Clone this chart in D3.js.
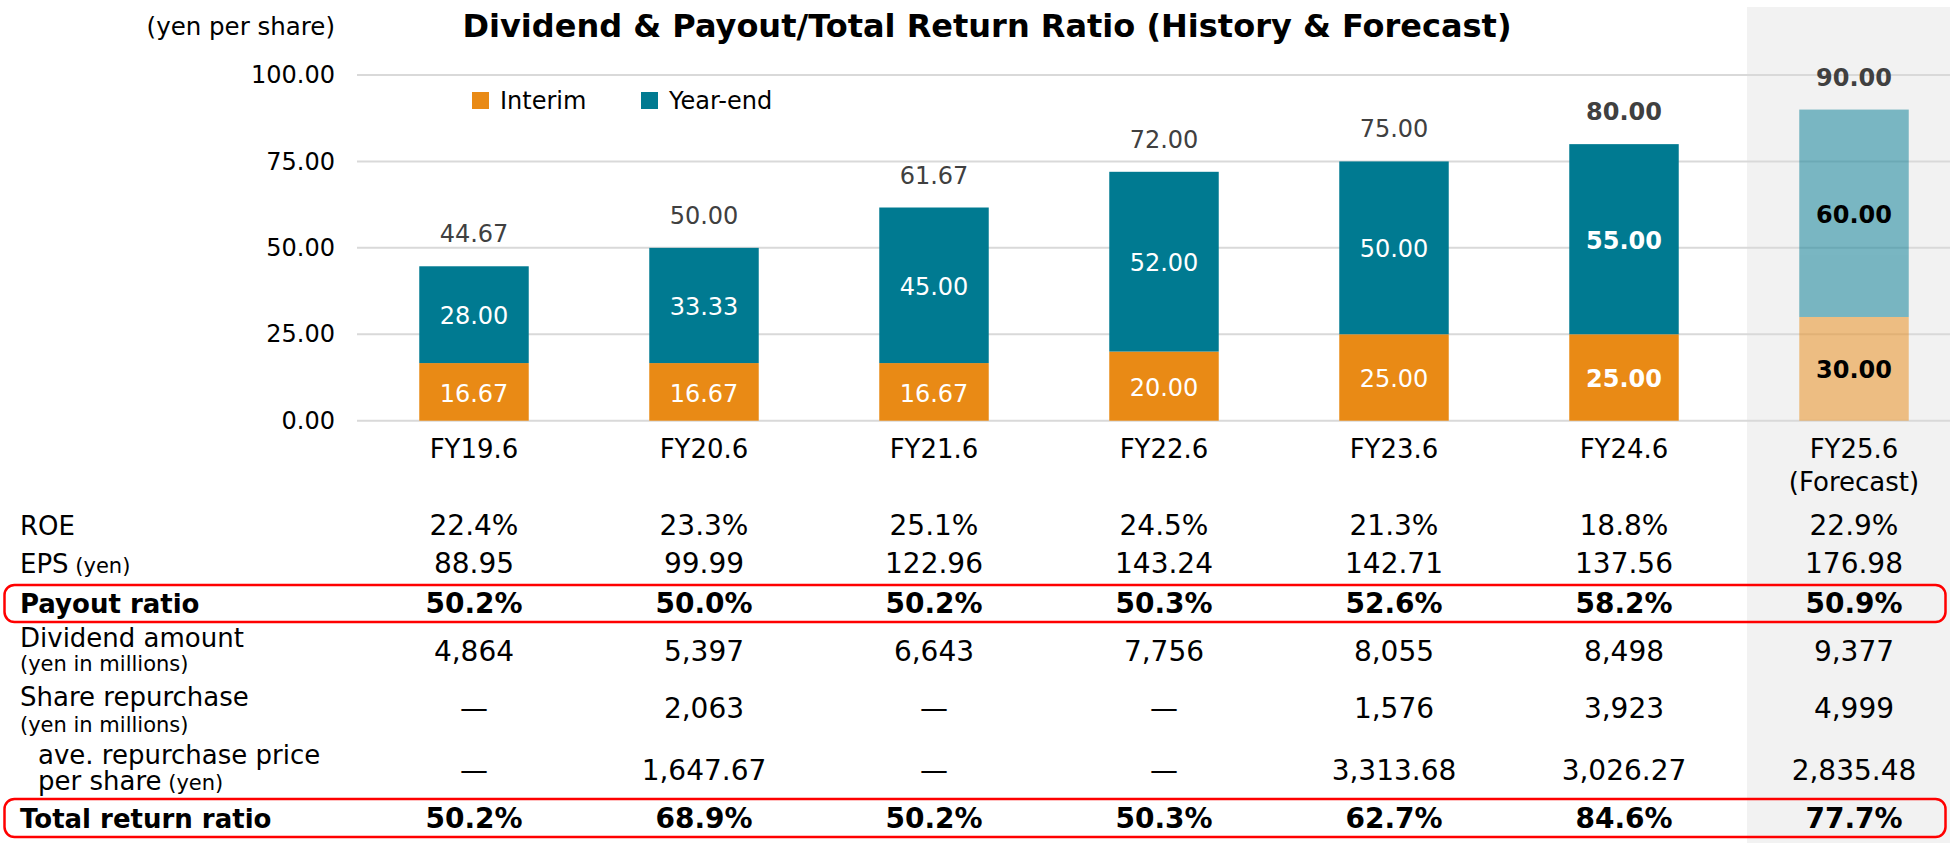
<!DOCTYPE html>
<html>
<head>
<meta charset="utf-8">
<script src="https://cdn.jsdelivr.net/npm/d3@7"></script>
<style>
  body { margin: 0; background: #fff; }
  svg { font-family: "DejaVu Sans", Verdana, sans-serif; display: block; }
</style>
</head>
<body>
<div id="chart"></div>
<script>
// Chart data
const categories = ["FY19.6", "FY20.6", "FY21.6", "FY22.6", "FY23.6", "FY24.6", "FY25.6"];
const interim = [16.67, 16.67, 16.67, 20.00, 25.00, 25.00, 30.00];
const yearEnd = [28.00, 33.33, 45.00, 52.00, 50.00, 55.00, 60.00];
const totals = [44.67, 50.00, 61.67, 72.00, 75.00, 80.00, 90.00];
const yTicks = [0, 25, 50, 75, 100];

// Table data
const roe = ["22.4%", "23.3%", "25.1%", "24.5%", "21.3%", "18.8%", "22.9%"];
const eps = ["88.95", "99.99", "122.96", "143.24", "142.71", "137.56", "176.98"];
const payoutRatio = ["50.2%", "50.0%", "50.2%", "50.3%", "52.6%", "58.2%", "50.9%"];
const dividendAmount = ["4,864", "5,397", "6,643", "7,756", "8,055", "8,498", "9,377"];
const shareRepurchase = ["—", "2,063", "—", "—", "1,576", "3,923", "4,999"];
const avePrice = ["—", "1,647.67", "—", "—", "3,313.68", "3,026.27", "2,835.48"];
const totalReturn = ["50.2%", "68.9%", "50.2%", "50.3%", "62.7%", "84.6%", "77.7%"];

const interimColour = "#e98a15";
const yearEndColour = "#007a91";
const forecastIndex = 6;
const boldIndex = 5;

const width = 1950, height = 843;

const svg = d3.select("#chart").append("svg")
  .attr("width", width)
  .attr("height", height);

// Scales
const xScale = d3.scaleBand()
  .domain(categories)
  .range([359, 1969])
  .paddingInner(0.524)
  .paddingOuter(0.262);

const yScale = d3.scaleLinear()
  .domain([0, 100])
  .range([420.7, 75]);

const cx = (c) => xScale(c) + xScale.bandwidth() / 2;

// Forecast shading
svg.append("rect")
  .attr("x", 1747)
  .attr("y", 7)
  .attr("width", width - 1747)
  .attr("height", height - 7)
  .attr("fill", "#f2f2f2");

// Gridlines
svg.append("g")
  .selectAll("line")
  .data(yTicks)
  .join("line")
  .attr("x1", 357)
  .attr("x2", width)
  .attr("y1", (d) => yScale(d))
  .attr("y2", (d) => yScale(d))
  .attr("stroke", "#d9d9d9")
  .attr("stroke-width", 2);

// Y axis (labels only)
const yAxis = d3.axisLeft(yScale)
  .tickValues(yTicks)
  .tickFormat(d3.format(".2f"))
  .tickSize(0)
  .tickPadding(22);

const yAxisGroup = svg.append("g")
  .attr("transform", "translate(357,0)")
  .call(yAxis);
yAxisGroup.select(".domain").remove();
yAxisGroup.selectAll("text")
  .style("font-family", "DejaVu Sans, Verdana, sans-serif")
  .style("font-size", "24px")
  .attr("fill", "#000");

svg.append("text")
  .attr("x", 335)
  .attr("y", 35)
  .attr("text-anchor", "end")
  .style("font-size", "24.5px")
  .text("(yen per share)");

// Title
svg.append("text")
  .attr("x", 987)
  .attr("y", 37)
  .attr("text-anchor", "middle")
  .style("font-size", "32px")
  .style("font-weight", "bold")
  .text("Dividend & Payout/Total Return Ratio (History & Forecast)");

// Legend
const legendItems = [
  { label: "Interim", colour: interimColour, x: 472 },
  { label: "Year-end", colour: yearEndColour, x: 641 },
];
const legend = svg.append("g").selectAll("g")
  .data(legendItems)
  .join("g")
  .attr("transform", (d) => `translate(${d.x},92)`);
legend.append("rect")
  .attr("width", 17)
  .attr("height", 17)
  .attr("fill", (d) => d.colour);
legend.append("text")
  .attr("x", 28)
  .attr("y", 17)
  .style("font-size", "24px")
  .text((d) => d.label);

// Bars
const barData = categories.map((c, i) => ({
  cat: c, i, interim: interim[i], yearEnd: yearEnd[i], total: totals[i],
}));

const bars = svg.append("g").selectAll("g")
  .data(barData)
  .join("g")
  .attr("opacity", (d) => d.i === forecastIndex ? 0.5 : 1);

bars.append("rect")
  .attr("x", (d) => xScale(d.cat))
  .attr("width", xScale.bandwidth())
  .attr("y", (d) => yScale(d.interim))
  .attr("height", (d) => yScale(0) - yScale(d.interim))
  .attr("fill", interimColour);

bars.append("rect")
  .attr("x", (d) => xScale(d.cat))
  .attr("width", xScale.bandwidth())
  .attr("y", (d) => yScale(d.interim + d.yearEnd))
  .attr("height", (d) => yScale(d.interim) - yScale(d.interim + d.yearEnd))
  .attr("fill", yearEndColour);

// Bar labels
const labelColour = (d) => d.i === forecastIndex ? "#000" : "#fff";
const labelWeight = (d) => d.i >= boldIndex ? "bold" : "normal";

const labels = svg.append("g").selectAll("g")
  .data(barData)
  .join("g");

labels.append("text")
  .attr("x", (d) => cx(d.cat))
  .attr("y", (d) => (yScale(0) + yScale(d.interim)) / 2 + 1)
  .attr("dy", "0.36em")
  .attr("text-anchor", "middle")
  .style("font-size", "24px")
  .style("font-weight", labelWeight)
  .attr("fill", labelColour)
  .text((d) => d3.format(".2f")(d.interim));

labels.append("text")
  .attr("x", (d) => cx(d.cat))
  .attr("y", (d) => (yScale(d.interim) + yScale(d.interim + d.yearEnd)) / 2 + 1)
  .attr("dy", "0.36em")
  .attr("text-anchor", "middle")
  .style("font-size", "24px")
  .style("font-weight", labelWeight)
  .attr("fill", labelColour)
  .text((d) => d3.format(".2f")(d.yearEnd));

labels.append("text")
  .attr("x", (d) => cx(d.cat))
  .attr("y", (d) => yScale(d.total) - 24)
  .attr("text-anchor", "middle")
  .style("font-size", "24px")
  .style("font-weight", labelWeight)
  .attr("fill", "#404040")
  .text((d) => d3.format(".2f")(d.total));

// Category labels
svg.append("g").selectAll("text")
  .data(categories)
  .join("text")
  .attr("x", (d) => cx(d))
  .attr("y", 458)
  .attr("text-anchor", "middle")
  .style("font-size", "26px")
  .text((d) => d);

svg.append("text")
  .attr("x", cx(categories[forecastIndex]))
  .attr("y", 491)
  .attr("text-anchor", "middle")
  .style("font-size", "26px")
  .text("(Forecast)");

// Table rows
const rows = [
  { values: roe, y: 535, label: [{ t: "ROE", y: 535 }] },
  { values: eps, y: 573, label: [{ t: "EPS", y: 573, small: " (yen)" }] },
  { values: payoutRatio, y: 613, bold: true, label: [{ t: "Payout ratio", y: 613 }] },
  { values: dividendAmount, y: 661, label: [{ t: "Dividend amount", y: 647 }, { t: "(yen in millions)", y: 671, size: 21 }] },
  { values: shareRepurchase, y: 718, label: [{ t: "Share repurchase", y: 706 }, { t: "(yen in millions)", y: 732, size: 21 }] },
  { values: avePrice, y: 780, label: [{ t: "ave. repurchase price", y: 764, x: 38 }, { t: "per share", y: 790, x: 38, small: " (yen)" }] },
  { values: totalReturn, y: 828, bold: true, label: [{ t: "Total return ratio", y: 828 }] },
];

const table = svg.append("g");

rows.forEach((row) => {
  row.label.forEach((l) => {
    const t = table.append("text")
      .attr("x", l.x || 20)
      .attr("y", l.y)
      .style("font-size", `${l.size || 26}px`)
      .style("font-weight", row.bold ? "bold" : "normal")
      .text(l.t);
    if (l.small) {
      t.append("tspan").style("font-size", "21px").text(l.small);
    }
  });

  table.append("g").selectAll("text")
    .data(row.values)
    .join("text")
    .attr("x", (d, i) => cx(categories[i]))
    .attr("y", row.y)
    .attr("text-anchor", "middle")
    .style("font-size", "28px")
    .style("font-weight", row.bold ? "bold" : "normal")
    .text((d) => d);
});

// Highlight boxes for the ratio rows
const boxes = [{ y: 585, h: 37 }, { y: 799, h: 38 }];
svg.append("g").selectAll("rect")
  .data(boxes)
  .join("rect")
  .attr("x", 4.5)
  .attr("y", (d) => d.y)
  .attr("width", 1941)
  .attr("height", (d) => d.h)
  .attr("rx", 10)
  .attr("fill", "none")
  .attr("stroke", "#ff0000")
  .attr("stroke-width", 2.5);
</script>
</body>
</html>
